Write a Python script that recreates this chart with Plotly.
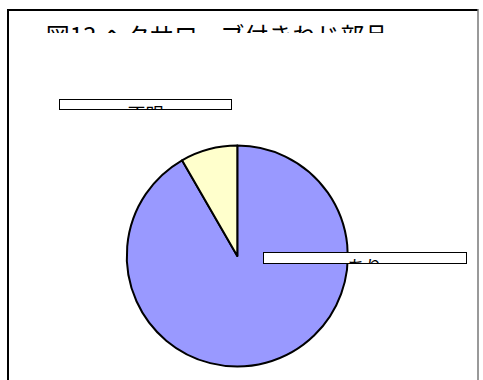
import plotly.graph_objects as go

W, H = 483, 380

# Pie data
labels = ["あり", "不明"]
values = [11, 1]
colors = ["#9999FF", "#FFFFCC"]

title_text = "図13 ヘクサローブ付きねじ部品"

CJK = "Noto Sans CJK JP, Noto Sans CJK SC, sans-serif"


def px_x(v):
    return v / W


def px_y(v):
    return 1 - v / H


fig = go.Figure()

# Pie placed by pixel-based domain
cx, cy, r = 237.3, 256.0, 110.5
fig.add_trace(go.Pie(
    labels=labels,
    values=values,
    marker=dict(colors=colors, line=dict(color="black", width=2)),
    sort=False,
    direction="clockwise",
    rotation=0,
    textinfo="none",
    hoverinfo="label+percent",
    showlegend=False,
    domain=dict(x=[px_x(cx - r), px_x(cx + r)], y=[px_y(cy + r), px_y(cy - r)]),
))

annotations = []

# Title: fixed-height box, overflowing text is clipped
t_fs = 24
annotations.append(dict(
    text=title_text, xref="paper", yref="paper",
    x=px_x(216.5), y=px_y(17.0), xanchor="center", yanchor="top",
    width=400, height=16, valign="top", align="center",
    showarrow=False, borderwidth=0, borderpad=0,
    font=dict(family=CJK, size=t_fs, color="black"),
))

# Category label boxes: (left, top, right, bottom, text)
label_boxes = [
    (59, 99, 232, 110, labels[1]),
    (263, 252, 467, 264, labels[0]),
]
l_fs = 18
for x0, y0, x1, y1, txt in label_boxes:
    annotations.append(dict(
        text=txt, xref="paper", yref="paper",
        x=px_x(x0), y=px_y(y0), xanchor="left", yanchor="top",
        width=x1 - x0 - 2, height=y1 - y0 - 2,
        valign="top", align="center",
        showarrow=False, bgcolor="white",
        bordercolor="black", borderwidth=1, borderpad=0,
        font=dict(family=CJK, size=l_fs, color="black"),
    ))

# Chart area frame
shapes = [
    dict(type="line", xref="paper", yref="paper",
         x0=px_x(8), x1=px_x(8), y0=px_y(9), y1=px_y(H + 5),
         line=dict(color="black", width=2)),
    dict(type="line", xref="paper", yref="paper",
         x0=px_x(7), x1=px_x(478), y0=px_y(10), y1=px_y(10),
         line=dict(color="black", width=2)),
    dict(type="line", xref="paper", yref="paper",
         x0=px_x(478), x1=px_x(478), y0=px_y(9), y1=px_y(H + 5),
         line=dict(color="#777777", width=1.5)),
]

fig.update_layout(
    width=W, height=H,
    margin=dict(l=0, r=0, t=0, b=0),
    paper_bgcolor="white",
    plot_bgcolor="rgba(0,0,0,0)",
    showlegend=False,
    annotations=annotations,
    shapes=shapes,
)

fig.write_html("out.html", config={"displayModeBar": False})
